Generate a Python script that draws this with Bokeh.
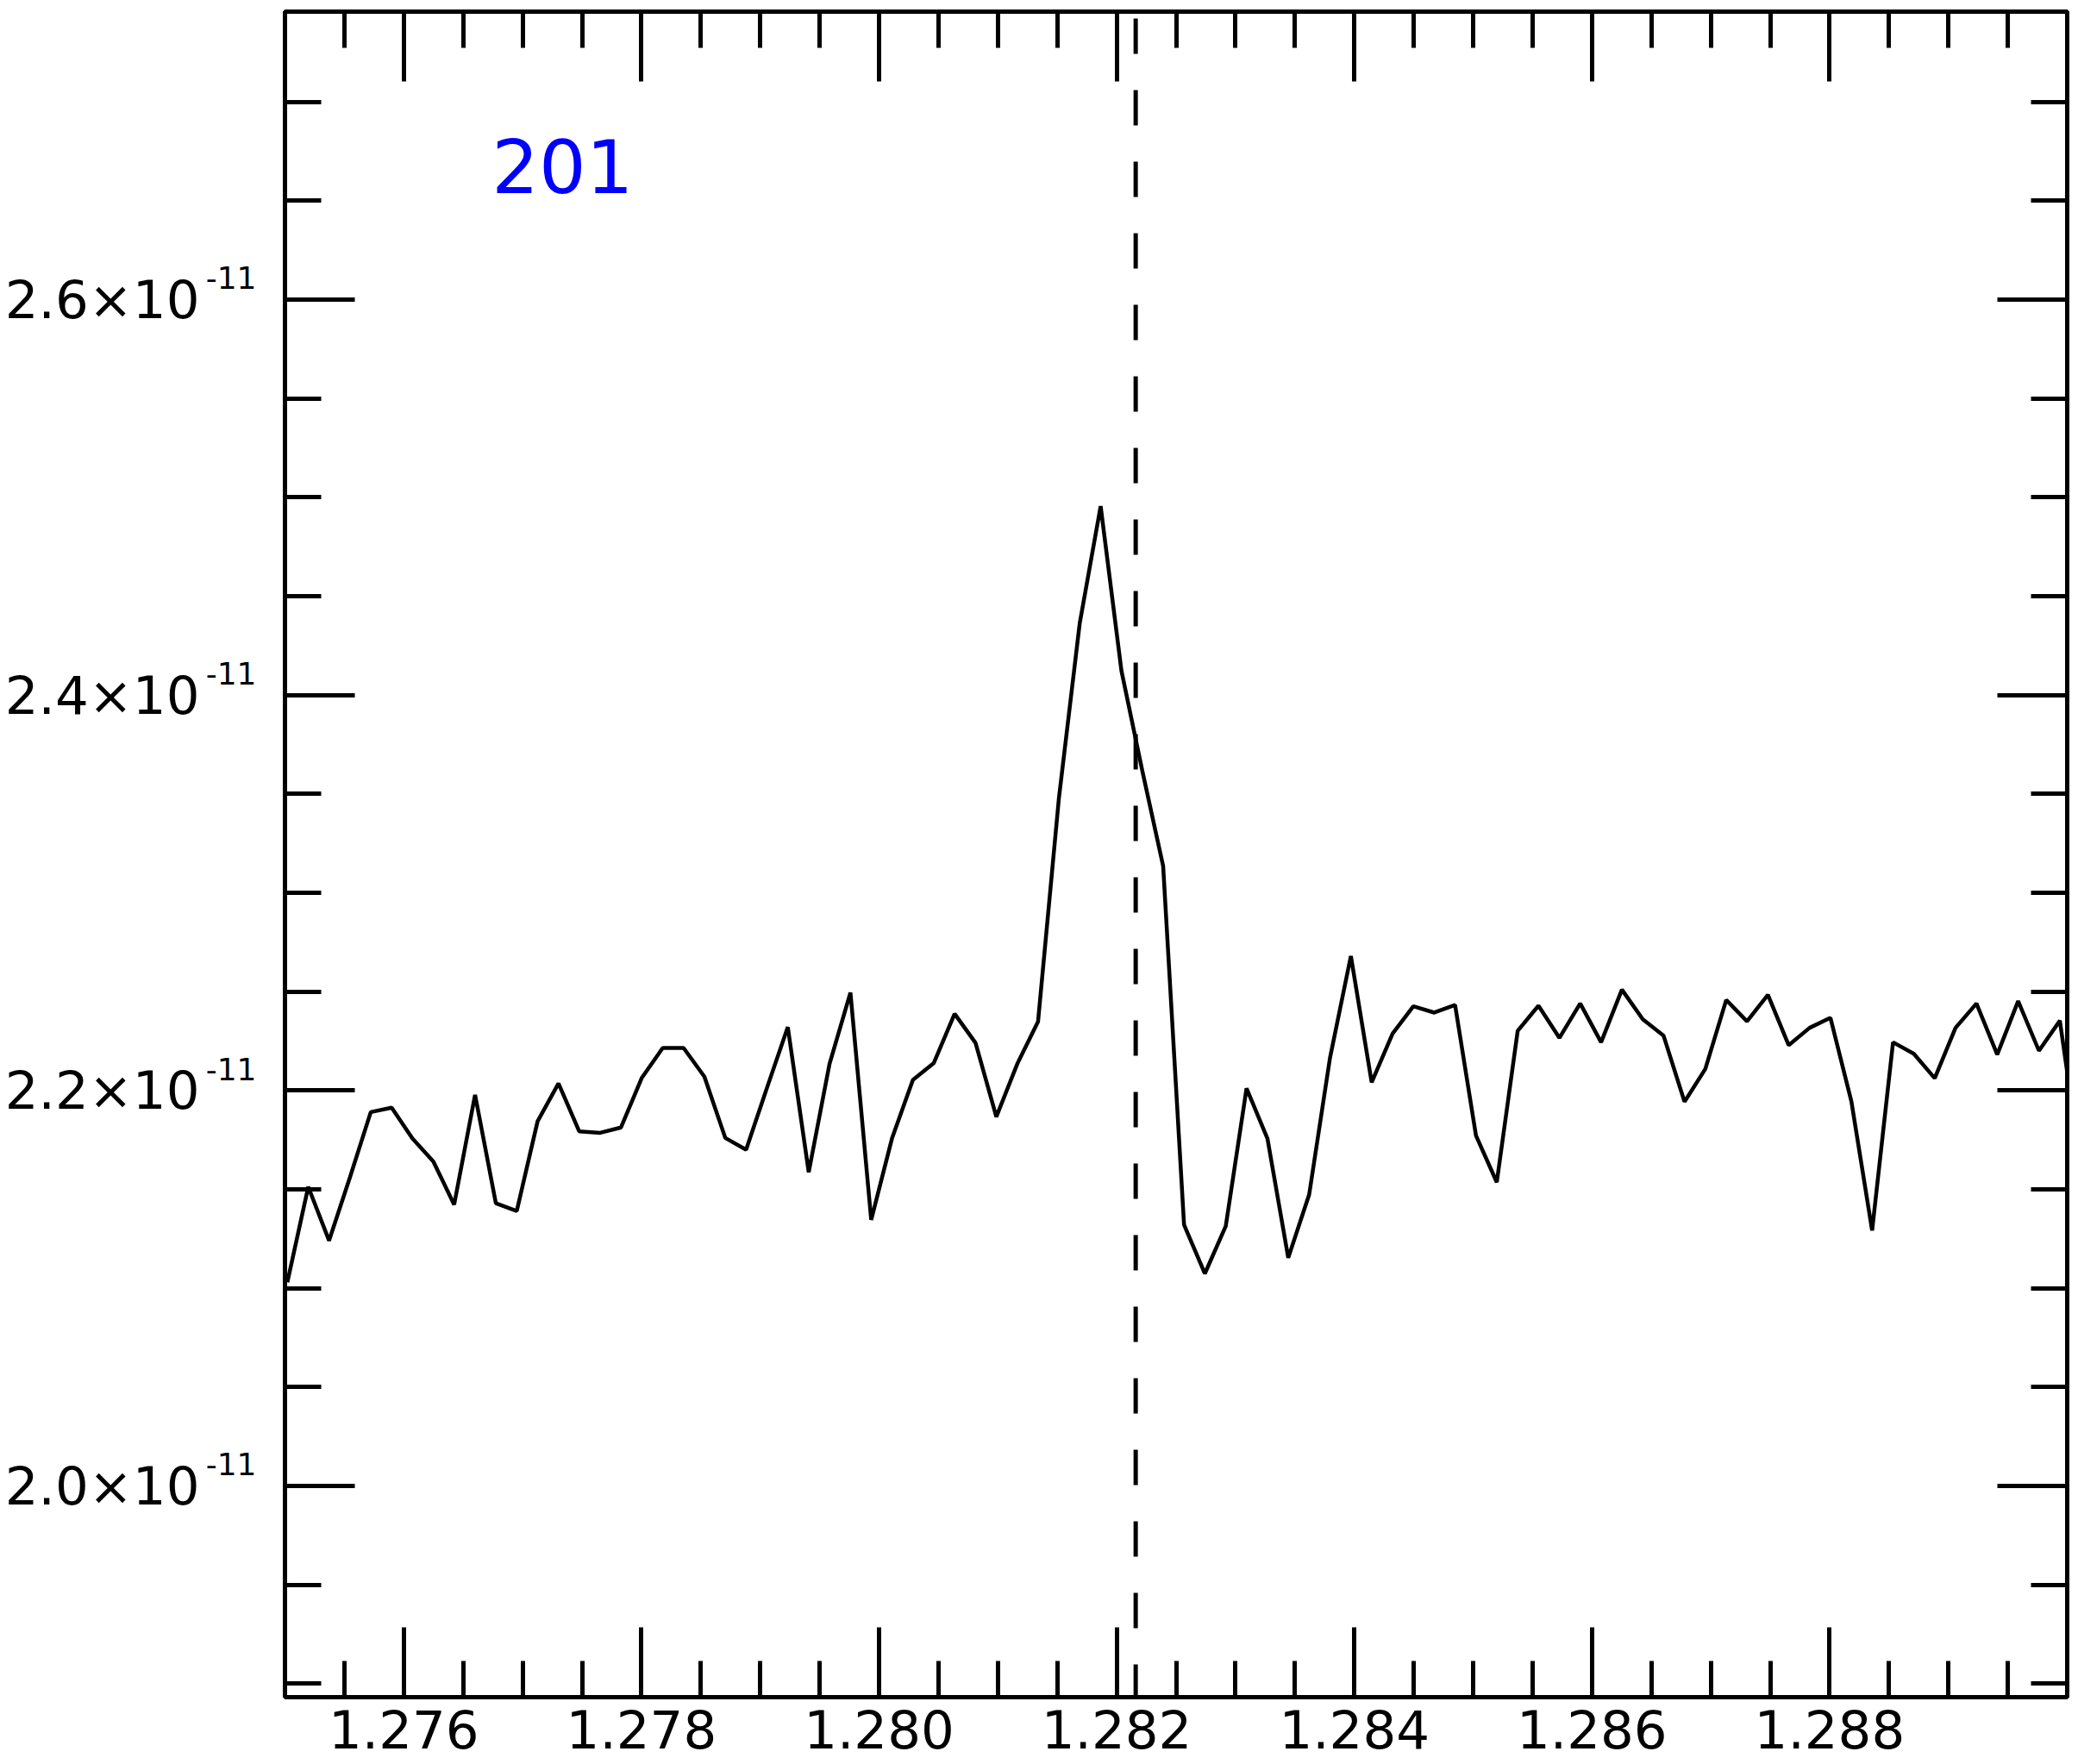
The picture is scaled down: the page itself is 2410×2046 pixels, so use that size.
from bokeh.plotting import figure
from bokeh.models import (Range1d, LinearAxis, FixedTicker, PrintfTickFormatter,
                          CustomJSTickFormatter, Label)
from bokeh.embed import file_html
from bokeh.resources import INLINE

# ---------------- data ----------------
wavelength = [
    1.275020, 1.275196, 1.275371, 1.275547, 1.275722, 1.275898, 1.276073, 1.276249, 1.276424, 1.276600,
    1.276775, 1.276951, 1.277126, 1.277302, 1.277477, 1.277653, 1.277828, 1.278004, 1.278179, 1.278355,
    1.278530, 1.278706, 1.278881, 1.279057, 1.279232, 1.279408, 1.279583, 1.279759, 1.279934, 1.280110,
    1.280285, 1.280461, 1.280636, 1.280812, 1.280987, 1.281163, 1.281338, 1.281514, 1.281689, 1.281865,
    1.282040, 1.282216, 1.282391, 1.282567, 1.282742, 1.282918, 1.283093, 1.283269, 1.283444, 1.283620,
    1.283795, 1.283971, 1.284146, 1.284322, 1.284497, 1.284673, 1.284848, 1.285024, 1.285199, 1.285375,
    1.285550, 1.285726, 1.285901, 1.286077, 1.286252, 1.286428, 1.286603, 1.286779, 1.286954, 1.287130,
    1.287305, 1.287481, 1.287656, 1.287832, 1.288007, 1.288183, 1.288358, 1.288534, 1.288709, 1.288885,
    1.289060, 1.289236, 1.289411, 1.289587, 1.289762, 1.289938, 1.290113,
]

# flux in units of 1e-11
flux_e11 = [
    2.1030, 2.1513, 2.1241, 2.1561, 2.1891, 2.1913, 2.1757, 2.1641, 2.1423, 2.1978,
    2.1430, 2.1391, 2.1844, 2.2036, 2.1793, 2.1786, 2.1813, 2.2065, 2.2215, 2.2215,
    2.2070, 2.1760, 2.1701, 2.2014, 2.2321, 2.1587, 2.2134, 2.2495, 2.1346, 2.1760,
    2.2054, 2.2139, 2.2388, 2.2241, 2.1867, 2.2134, 2.2348, 2.3480, 2.4363, 2.4955,
    2.4123, 2.3616, 2.3135, 2.1321, 2.1074, 2.1314, 2.2011, 2.1757, 2.1154, 2.1474,
    2.2164, 2.2680, 2.2041, 2.2288, 2.2426, 2.2394, 2.2433, 2.1772, 2.1536, 2.2302,
    2.2429, 2.2266, 2.2440, 2.2244, 2.2510, 2.2360, 2.2277, 2.1943, 2.2109, 2.2458,
    2.2350, 2.2484, 2.2229, 2.2317, 2.2368, 2.1946, 2.1292, 2.2244, 2.2186, 2.2062,
    2.2317, 2.2440, 2.2182, 2.2452, 2.2201, 2.2353, 2.1618,
]
flux = [v * 1e-11 for v in flux_e11]

line_wavelength = 1.28216      # dashed reference line
panel_label = "201"
label_x, label_y = 1.27674, 2.6676e-11

x_major_ticks = [1.276, 1.278, 1.280, 1.282, 1.284, 1.286, 1.288]
x_minor_ticks = [1.2755, 1.2765, 1.2770, 1.2775, 1.2785, 1.2790, 1.2795,
                 1.2805, 1.2810, 1.2815, 1.2825, 1.2830, 1.2835, 1.2845,
                 1.2850, 1.2855, 1.2865, 1.2870, 1.2875, 1.2885, 1.2890, 1.2895]
y_major_e11 = [2.0, 2.2, 2.4, 2.6]
y_minor_e11 = [1.90, 1.95, 2.05, 2.10, 2.15, 2.25, 2.30, 2.35,
               2.45, 2.50, 2.55, 2.65, 2.70]
y_exponent = "-11"

x_start, x_end = 1.275, 1.290
y_start, y_end = 1.8932e-11, 2.7456e-11

# ---------------- figure ----------------
FONT = "DejaVu Sans"

p = figure(frame_width=2067, frame_height=1955,
           x_range=Range1d(x_start, x_end), y_range=Range1d(y_start, y_end),
           output_backend="svg", toolbar_location=None,
           min_border_left=330, min_border_right=8, min_border_top=13,
           min_border_bottom=76)
p.background_fill_color = "white"
p.border_fill_color = "white"
p.outline_line_color = "black"
p.outline_line_width = 5
p.xgrid.visible = False
p.ygrid.visible = False

xticker = FixedTicker(ticks=x_major_ticks, minor_ticks=x_minor_ticks)
yticker = FixedTicker(ticks=[v * 1e-11 for v in y_major_e11],
                      minor_ticks=[v * 1e-11 for v in y_minor_e11])


def style(ax):
    ax.axis_line_color = "black"
    ax.axis_line_width = 5
    ax.major_tick_line_color = "black"
    ax.minor_tick_line_color = "black"
    ax.major_tick_line_width = 5
    ax.minor_tick_line_width = 5
    ax.major_tick_in = 81
    ax.major_tick_out = 0
    ax.minor_tick_in = 42
    ax.minor_tick_out = 0
    ax.major_label_text_font = FONT
    ax.major_label_text_font_size = "61px"
    ax.major_label_text_color = "black"


# bottom axis
xa = p.xaxis[0]
xa.ticker = xticker
xa.formatter = PrintfTickFormatter(format="%.3f")
style(xa)
xa.major_label_standoff = 14

# left axis (closest to frame): ticks + exponent part of the labels
ya = p.yaxis[0]
ya.ticker = yticker
ya.formatter = CustomJSTickFormatter(args=dict(e=y_exponent),
                                     code="return e + '\\n';")
style(ya)
ya.major_label_text_font_size = "36px"
ya.major_label_standoff = 33

# outer left axis: mantissa part of the labels only
ym = LinearAxis(ticker=yticker,
                formatter=CustomJSTickFormatter(code="return (tick/1e-11).toFixed(1) + '\u00d710';"))
style(ym)
ym.axis_line_color = None
ym.major_tick_line_color = None
ym.minor_tick_line_color = None
ym.major_tick_in = 0
ym.minor_tick_in = 0
ym.major_label_standoff = 4
p.add_layout(ym, "left")

blank = "return '';"
top = LinearAxis(ticker=xticker, formatter=CustomJSTickFormatter(code=blank))
style(top)
top.major_label_text_font_size = "0px"
top.major_label_standoff = 0
p.add_layout(top, "above")

right = LinearAxis(ticker=yticker, formatter=CustomJSTickFormatter(code=blank))
style(right)
right.major_label_text_font_size = "0px"
right.major_label_standoff = 0
p.add_layout(right, "right")

# spectrum
p.line(wavelength, flux, line_color="black", line_width=4.5)

# dashed reference line, drawn from the top of the range downwards
p.segment(x0=[line_wavelength], y0=[y_end], x1=[line_wavelength], y1=[y_start],
          line_color="black", line_width=5, line_dash="41 42", line_dash_offset=75)

# panel label
p.add_layout(Label(x=label_x, y=label_y, text=panel_label, text_font=FONT,
                   text_font_size="86px", text_color="#0000ff",
                   text_align="left", text_baseline="alphabetic"))

open("out.html", "w").write(file_html(p, INLINE))
